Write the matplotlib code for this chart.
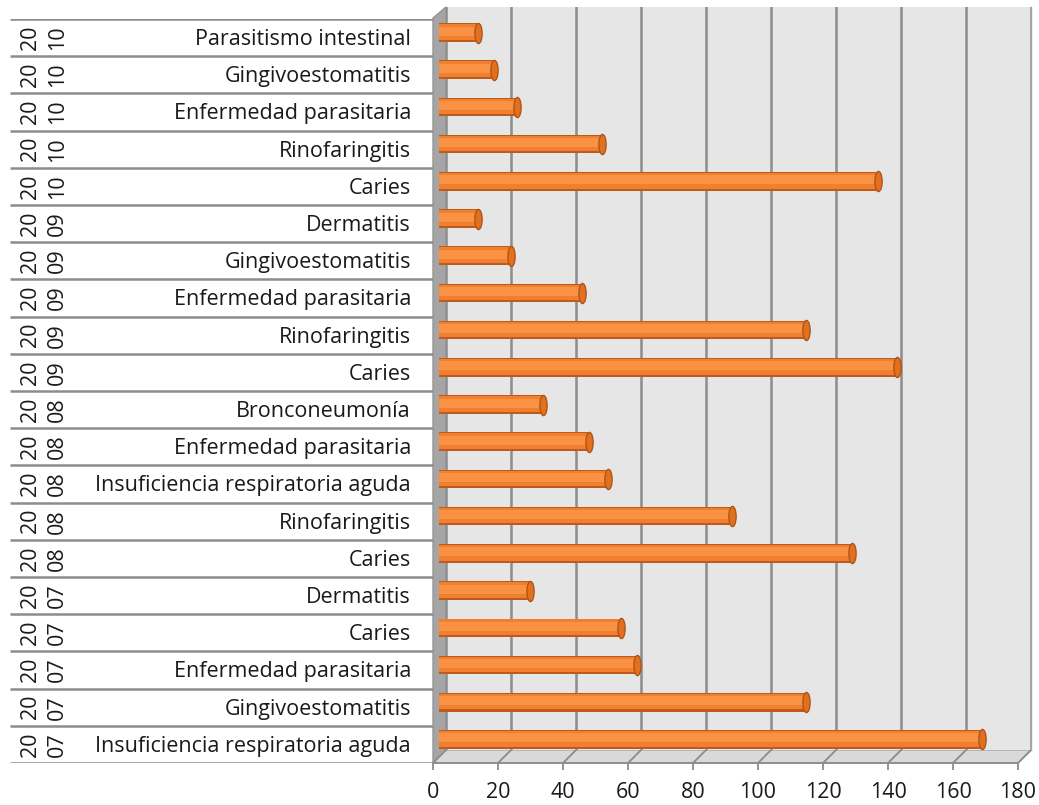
import matplotlib
matplotlib.use("Agg")
import matplotlib.pyplot as plt
from matplotlib.patches import Polygon
from matplotlib.path import Path
from matplotlib.transforms import Affine2D

plt.rcParams['font.family'] = ['Open Sans', 'DejaVu Sans']

# datos (de arriba hacia abajo)
anios = ['2010', '2010', '2010', '2010', '2010',
         '2009', '2009', '2009', '2009', '2009',
         '2008', '2008', '2008', '2008', '2008',
         '2007', '2007', '2007', '2007', '2007']
causas = ['Parasitismo intestinal', 'Gingivoestomatitis', 'Enfermedad parasitaria',
          'Rinofaringitis', 'Caries',
          'Dermatitis', 'Gingivoestomatitis', 'Enfermedad parasitaria',
          'Rinofaringitis', 'Caries',
          'Bronconeumonía', 'Enfermedad parasitaria', 'Insuficiencia respiratoria aguda',
          'Rinofaringitis', 'Caries',
          'Dermatitis', 'Caries', 'Enfermedad parasitaria',
          'Gingivoestomatitis', 'Insuficiencia respiratoria aguda']
casos = [12, 17, 24, 50, 135,
         12, 22, 44, 113, 141,
         32, 46, 52, 90, 127,
         28, 56, 61, 113, 167]
ticks = [0, 20, 40, 60, 80, 100, 120, 140, 160, 180]

W, H = 1039, 805
fig = plt.figure(figsize=(W / 100, H / 100), dpi=100)


def px_axes(x0, y0, x1, y1, **kw):
    # rectangulo en pixeles (origen arriba a la izquierda)
    return fig.add_axes([x0 / W, 1 - y1 / H, (x1 - x0) / W, (y1 - y0) / H], **kw)


n = len(casos)
filas = list(range(n))

# capa de decoracion 3D (paredes y piso) en pixeles
deco = px_axes(0, 0, W, H)
deco.set_xlim(0, W)
deco.set_ylim(H, 0)
deco.axis('off')
deco.add_patch(Polygon([(433, 18), (446, 7), (446, 750), (433, 763)],
                       closed=True, facecolor='#A5A5A5', edgecolor='#969696', lw=1))
deco.add_patch(Polygon([(446, 750), (1031, 750), (1018, 763), (433, 763)],
                       closed=True, facecolor='#D9D9D9', edgecolor='#A6A6A6', lw=1))
for t in ticks:
    xb = 446 + t * 585 / 180
    deco.plot([xb, xb - 13], [750, 763], color='#8C8C8C', lw=1.3)
deco.plot([1031, 1031], [7, 750], color='#A6A6A6', lw=1)

# pared del fondo con la grilla
back = px_axes(446, 7, 1031, 750)
back.set_facecolor('#E6E6E6')
back.set_xlim(0, 180)
back.set_xticks(ticks)
back.set_yticks([])
back.tick_params(length=0, labelbottom=False)
back.grid(axis='x', color='#8C8C8C', lw=1.8)
for s in back.spines.values():
    s.set_visible(False)

# tabla de etiquetas
tab = px_axes(10, 19, 433, 763)
tab.set_xlim(0, 423)
tab.set_ylim(n, 0)
tab.axis('off')
tab.hlines(range(n + 1), 0, 423, color='#8C8C8C', lw=1.8)
for i in filas:
    tab.text(401, i + 0.55, causas[i], ha='right', va='center', fontsize=15.5, color='#1A1A1A')
    tab.text(34, i + 0.5, anios[i][:2] + '\n' + anios[i][2:], ha='center', va='center',
             rotation=90, fontsize=15.5, color='#1A1A1A', linespacing=1.35)

# eje frontal con las marcas
front = px_axes(433, 700, 1018, 763)
front.patch.set_alpha(0)
front.set_xlim(0, 180)
front.set_xticks(ticks)
front.set_yticks([])
for s in ['top', 'left', 'right']:
    front.spines[s].set_visible(False)
front.spines['bottom'].set_color('#8C8C8C')
front.spines['bottom'].set_linewidth(1.3)
front.tick_params(axis='x', direction='out', length=5, width=1.3, color='#8C8C8C',
                  labelsize=15.5, labelcolor='#1A1A1A', pad=9)

# barras cilindricas
ax = px_axes(439, 14, 1024, 758)
ax.patch.set_alpha(0)
ax.set_xlim(0, 180)
ax.set_ylim(n - 0.5, -0.5)
ax.axis('off')
ax.barh(filas, casos, height=0.50, color='#BE5A1C')
ax.barh([f - 0.015 for f in filas], casos, height=0.42, color='#F08030')
ax.barh([f - 0.04 for f in filas], casos, height=0.24, color='#F99242')
tapa = Path.unit_circle().transformed(Affine2D().scale(0.36, 1.0))
ax.scatter(casos, filas, marker=tapa, s=210, color='#E2711F', edgecolor='#B0551A',
           linewidth=1, zorder=3)

fig.savefig('out.png', dpi=100)
